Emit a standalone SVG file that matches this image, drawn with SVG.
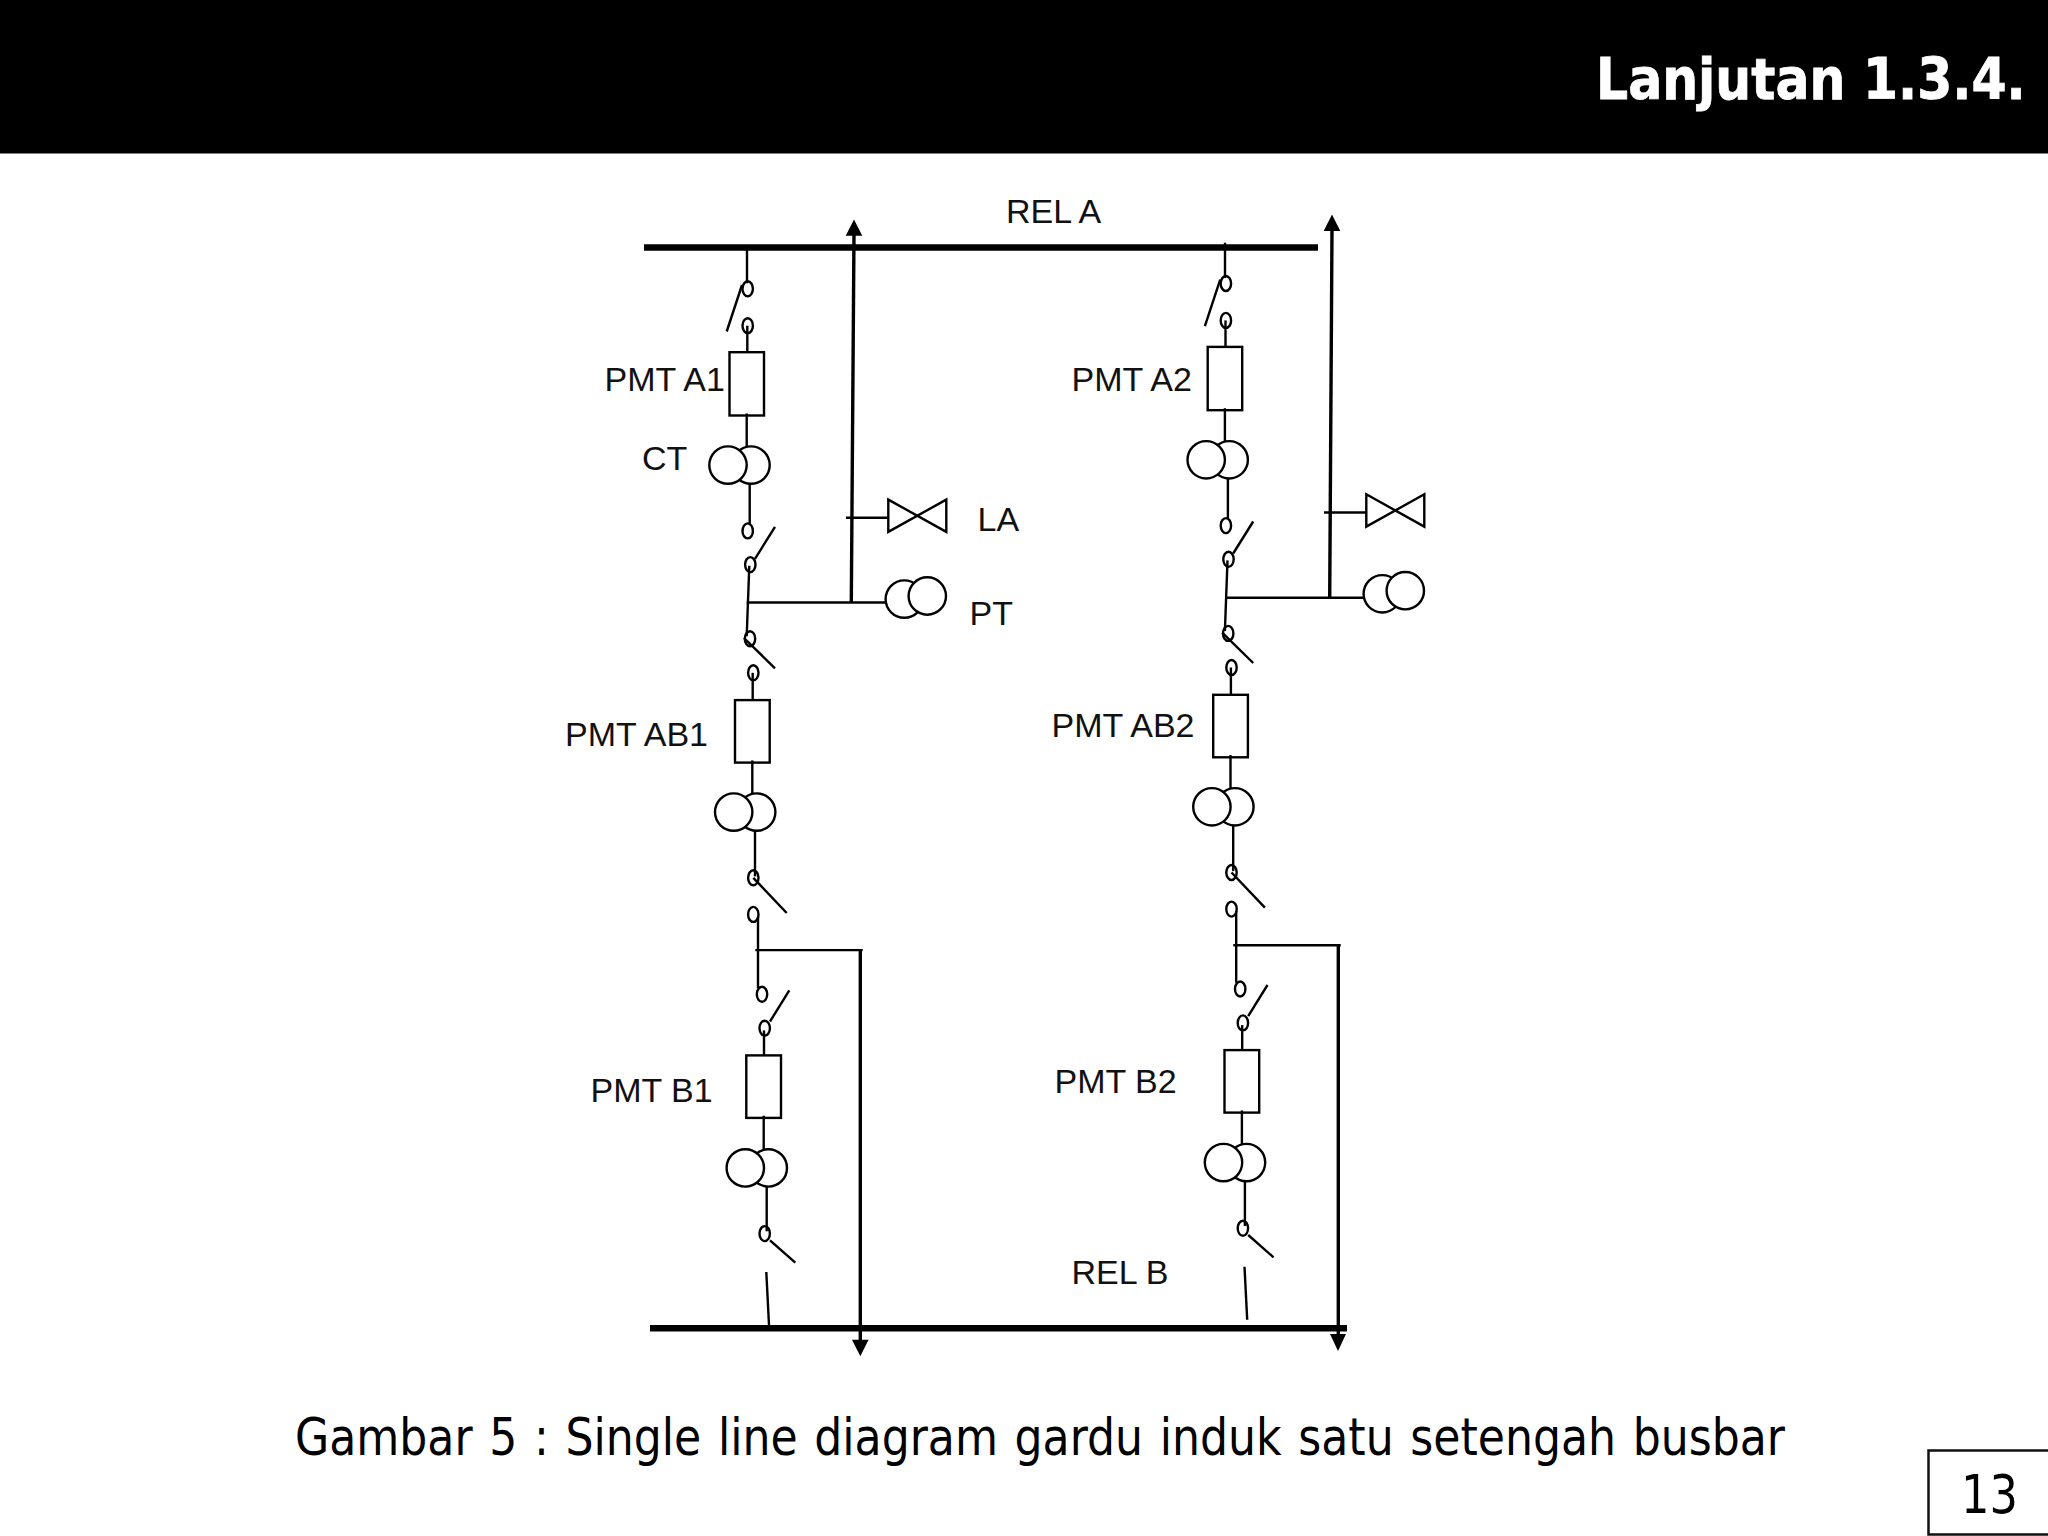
<svg xmlns="http://www.w3.org/2000/svg" width="2048" height="1536" viewBox="0 0 2048 1536">
<style>
.s{fill:none;stroke:#000;stroke-width:2.4}
.w{fill:#fff;stroke:#000;stroke-width:2.4}
.t{fill:none;stroke:#000;stroke-width:3.4}
.b{fill:none;stroke:#000;stroke-width:6.4}
.a{fill:#000;stroke:none}
text{fill:#111;font-family:"Liberation Sans",Arial,sans-serif;font-size:34px}
.d{font-family:"DejaVu Sans",Verdana,sans-serif;fill:#000}
</style>
<defs>
<ellipse id="o" class="s" rx="5.2" ry="7.5"/>
<g id="xf"><circle class="w" cx="23" r="18.7"/><circle class="w" r="18.7"/></g>
<g id="bay">
<use href="#o" x="747.7" y="288.8"/>
<path class="s" d="M742 285L726.7 331.5"/>
<use href="#o" x="747.7" y="325.7"/>
<path class="s" d="M747.3 325.7V352"/>
<rect class="s" x="729.5" y="352.2" width="34.5" height="63.3"/>
<path class="s" d="M746.7 413.5V447"/>
<use href="#xf" x="728" y="465.1"/>
<path class="s" d="M749.7 483.7V524.3"/>
<use href="#o" x="747.7" y="530.9"/>
<path class="s" d="M755 558.8L775 526.8"/>
<use href="#o" x="750.3" y="564.6"/>
<path class="s" d="M749.3 565.7L746.7 636.3"/>
<use href="#o" x="750" y="638.7"/>
<path class="s" d="M744 638L775 668.3"/>
<use href="#o" x="753.3" y="672.8"/>
<path class="s" d="M752.7 672.8V700"/>
<rect class="s" x="735" y="700.1" width="34.7" height="62.5"/>
<path class="s" d="M752.3 760.4V793.8"/>
<use href="#xf" x="733.7" y="812.1"/>
<path class="s" d="M755 830.9V876.4"/>
<use href="#o" x="753.3" y="877.8"/>
<path class="s" d="M753.3 877.8L786.7 913"/>
<use href="#o" x="753.3" y="914.4"/>
<path class="s" d="M758 916.6V988"/>
<use href="#o" x="762" y="994.3"/>
<path class="s" d="M770 1021.5L789.3 990.3"/>
<use href="#o" x="764.7" y="1028.2"/>
<path class="s" d="M764 1030.4V1055"/>
<rect class="s" x="746.3" y="1055.4" width="34.7" height="62.5"/>
<path class="s" d="M763.7 1115.7V1149.6"/>
<use href="#xf" x="745.3" y="1167.9"/>
<path class="s" d="M766.7 1186.7V1231.3"/>
<use href="#o" x="764.7" y="1233.6"/>
<path class="s" d="M770 1240.3L795.3 1262.6"/>
<path class="s" d="M766.3 1272L769 1325"/>
</g>
<g id="tap">
<path class="s" d="M846 517.8H888.3"/>
<path class="s" d="M888.3 499.6V531.9L946.3 499.6V531.9Z"/>
<circle class="w" cx="904.3" cy="599.1" r="18.7"/>
<circle class="w" cx="927.3" cy="596" r="18.7"/>
</g>
</defs>
<rect width="2048" height="1536" fill="#fff"/>
<g id="header">
<rect width="2048" height="153.5" fill="#000"/>
<text class="d" transform="translate(1596 99) scale(.885 1)" font-weight="700" style="fill:#fff;font-size:57px;stroke:#fff;stroke-width:.8">Lanjutan 1.3.4.</text>
</g>
<g id="connectors">
<path class="b" d="M644 247.5H1318"/>
<path class="b" d="M650 1328.2H1347"/>
<path class="s" d="M747 250V283.3"/>
<path class="s" d="M1225 242.7V278"/>
<path class="s" d="M746.7 602.5H891.7"/>
<path class="t" d="M851.3 602.5L854 233"/>
<path class="s" d="M1225 597.7H1369.7"/>
<path class="t" d="M1329.7 597.7L1332 229"/>
<path class="s" d="M755.3 950.1H862.7"/>
<path class="t" d="M860.3 950.1V1341"/>
<path class="s" d="M1233.3 945.2H1340.7"/>
<path class="t" d="M1338.3 945.2V1336"/>
<path class="a" d="M854 219.6L862.3 235.8H845.7Z"/>
<path class="a" d="M1332 214.4L1340.3 231H1323.7Z"/>
<path class="a" d="M860.3 1356.3L852 1339.8H868.6Z"/>
<path class="a" d="M1338 1351L1330 1334H1346Z"/>
</g>
<g id="bay-1"><use href="#bay"/><use href="#tap"/></g>
<g id="bay-2"><use href="#bay" x="478.2" y="-5.3"/><use href="#tap" x="478" y="-5.3"/></g>
<g id="labels">
<text x="1006" y="223">REL A</text>
<text x="604.5" y="390.7">PMT A1</text>
<text x="1071.5" y="390.7">PMT A2</text>
<text x="642" y="470">CT</text>
<text x="977.5" y="531.2">LA</text>
<text x="969.5" y="624.5">PT</text>
<text x="565" y="746">PMT AB1</text>
<text x="1051.5" y="737">PMT AB2</text>
<text x="590.5" y="1101.9">PMT B1</text>
<text x="1054.5" y="1093">PMT B2</text>
<text x="1071.5" y="1283.6">REL B</text>
</g>
<g id="caption">
<text class="d" x="295" y="1455" style="font-size:51px;word-spacing:3px" textLength="1490" lengthAdjust="spacingAndGlyphs">Gambar 5 : Single line diagram gardu induk satu setengah busbar</text>
</g>
<g id="page">
<rect x="1928.5" y="1450.5" width="125" height="84" fill="#fff" stroke="#111" stroke-width="2.5"/>
<text class="d" x="1961" y="1513" style="font-size:54px" textLength="57" lengthAdjust="spacingAndGlyphs">13</text>
</g>
</svg>
